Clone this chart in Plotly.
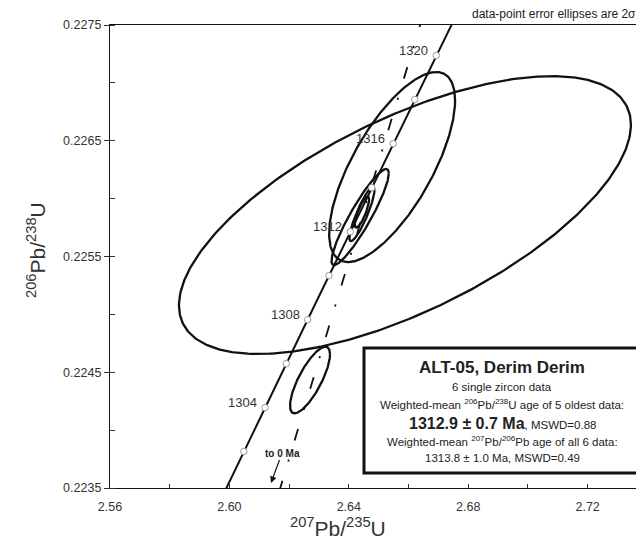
import numpy as np
import plotly.graph_objects as go

# Decay constants (1/yr)
L238 = 1.55125e-10
L235 = 9.8485e-10


def concordia(t_ma):
    t = np.asarray(t_ma, float) * 1e6
    return np.exp(L235 * t) - 1.0, np.exp(L238 * t) - 1.0


# Concordia age marks (Ma) and which of them carry a label
conc_ticks = [1302, 1304, 1306, 1308, 1310, 1312, 1314, 1316, 1318, 1320]
conc_labels = [1304, 1308, 1312, 1316, 1320]

# Single-zircon analyses: 207Pb/235U, 206Pb/238U, 2-sigma errors, error correlation
ell_x = [2.6588, 2.6545, 2.6438, 2.6444, 2.6444, 2.6270]
ell_y = [0.225858, 0.226273, 0.225841, 0.225867, 0.225884, 0.224433]
ell_sx = [0.0757, 0.0211, 0.0096, 0.0042, 0.0024, 0.0067]
ell_sy = [0.001200, 0.000821, 0.000415, 0.000235, 0.000135, 0.000288]
ell_rho = [0.65, 0.70, 0.91, 0.88, 0.80, 0.77]

# Weighted-mean 207Pb/206Pb age: chord through the origin ("to 0 Ma")
pbpb_age = 1313.8

fig = go.Figure()

# error ellipses
theta = np.linspace(0, 2 * np.pi, 361)
for cx, cy, sx, sy, r in zip(ell_x, ell_y, ell_sx, ell_sy, ell_rho):
    ex = cx + sx * np.cos(theta)
    ey = cy + sy * (r * np.cos(theta) + np.sqrt(1 - r * r) * np.sin(theta))
    fig.add_trace(go.Scatter(x=ex, y=ey, mode="lines",
                             line=dict(color="#111111", width=2.3),
                             hoverinfo="skip", showlegend=False))

# chord from the Pb-Pb age to the origin
px, py = concordia(pbpb_age)
slope = float(py / px)
chord_x = np.array([2.58, 2.72])
fig.add_trace(go.Scatter(x=chord_x, y=slope * chord_x, mode="lines",
                         line=dict(color="#111111", width=1.8,
                                   dash="12px,20px,2px,20px"),
                         hoverinfo="skip", showlegend=False))

# concordia curve
t_line = np.arange(1296, 1330.01, 0.1)
cxl, cyl = concordia(t_line)
fig.add_trace(go.Scatter(x=cxl, y=cyl, mode="lines",
                         line=dict(color="#111111", width=2),
                         hoverinfo="skip", showlegend=False))

tx, ty = concordia(conc_ticks)
fig.add_trace(go.Scatter(x=tx, y=ty, mode="markers",
                         marker=dict(symbol="circle", size=6.5, color="white",
                                     line=dict(color="#999999", width=1)),
                         hoverinfo="skip", showlegend=False))

annotations = []
lx, ly = concordia(conc_labels)
for age, x, y in zip(conc_labels, lx, ly):
    annotations.append(dict(x=x, y=y, xref="x", yref="y", text=str(age),
                            showarrow=False, xanchor="right", yanchor="middle",
                            xshift=-6, yshift=5,
                            font=dict(size=13, color="#333333")))

# "to 0 Ma" arrow
annotations.append(dict(x=2.61394, y=0.223543, xref="x", yref="y",
                        text="<b>to 0 Ma</b>", showarrow=True,
                        ax=11, ay=-30, arrowhead=2, arrowsize=1.1,
                        arrowwidth=1.2, arrowcolor="#111111",
                        font=dict(size=10, color="#222222")))


def pxy(xp, yp):
    return (xp - 110) / 526.0, (488 - yp) / 463.0


# summary box text
box_lines = [
    ("<b>ALT-05, Derim Derim</b>", 367, 17),
    ("6 single zircon data", 387, 11.5),
    ("Weighted-mean <sup>206</sup>Pb/<sup>238</sup>U age of 5 oldest data:", 404, 11.5),
    ("<b><span style='font-size:16px'>1312.9 ± 0.7 Ma</span></b>, MSWD=0.88", 423, 11.5),
    ("Weighted-mean <sup>207</sup>Pb/<sup>206</sup>Pb age of all 6 data:", 441, 11.5),
    ("1313.8 ± 1.0 Ma, MSWD=0.49", 458, 11.5),
]
for txt, ypix, fs in box_lines:
    xp, yp = pxy(502, ypix)
    annotations.append(dict(x=xp, y=yp, xref="paper", yref="paper", text=txt,
                            showarrow=False, xanchor="center", yanchor="middle",
                            font=dict(size=fs, color="#222222")))

# axis titles
xp, yp = pxy(338, 527)
annotations.append(dict(x=xp, y=yp, xref="paper", yref="paper",
                        text="<sup>207</sup>Pb/<sup>235</sup>U", showarrow=False,
                        xanchor="center", yanchor="middle",
                        font=dict(size=21, color="#333333")))
xp, yp = pxy(36, 250)
annotations.append(dict(x=xp, y=yp, xref="paper", yref="paper",
                        text="<sup>206</sup>Pb/<sup>238</sup>U", showarrow=False,
                        textangle=-90, xanchor="center", yanchor="middle",
                        font=dict(size=21, color="#333333")))

xp, yp = pxy(638, 14)
annotations.append(dict(x=xp, y=yp, xref="paper", yref="paper",
                        text="data-point error ellipses are 2σ", showarrow=False,
                        xanchor="right", yanchor="middle",
                        font=dict(size=12, color="#222222")))

shapes = [dict(type="rect", xref="paper", yref="paper",
               x0=pxy(364, 0)[0], x1=1.05, y0=pxy(0, 473)[1], y1=pxy(0, 348)[1],
               line=dict(color="#111111", width=3), fillcolor="white", layer="above")]

fig.update_layout(
    width=636, height=540,
    margin=dict(l=110, r=0, t=25, b=52),
    paper_bgcolor="white", plot_bgcolor="white",
    font=dict(family="Liberation Sans, Arial, sans-serif", color="#333333"),
    showlegend=False,
    annotations=annotations,
    shapes=shapes,
    xaxis=dict(range=[2.56, 2.7362], dtick=0.04, tick0=2.56,
               tickformat=".2f", ticks="inside", ticklen=4,
               tickcolor="#333333", showgrid=False, zeroline=False,
               showline=True, linecolor="#111111", linewidth=1.3, mirror=True,
               ticklabelstandoff=7,
               minor=dict(dtick=0.02, ticks="inside", ticklen=4, tickcolor="#333333"),
               tickfont=dict(size=12.5, color="#333333")),
    yaxis=dict(range=[0.2235, 0.2275], dtick=0.001, tick0=0.2235,
               tickformat=".4f", ticks="outside", ticklen=5,
               tickcolor="#333333", showgrid=False, zeroline=False,
               showline=True, linecolor="#111111", linewidth=1.3,
               minor=dict(dtick=0.0005, ticks="inside", ticklen=5, tickcolor="#333333"),
               tickfont=dict(size=12.5, color="#333333")),
)

fig.write_html("out.html")
